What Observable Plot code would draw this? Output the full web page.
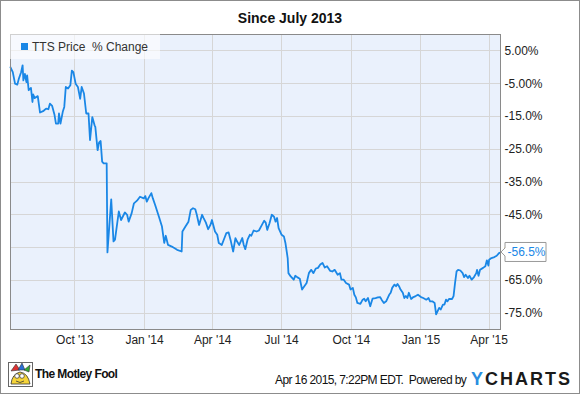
<!DOCTYPE html>
<html><head><meta charset="utf-8">
<script src="https://cdn.jsdelivr.net/npm/d3@7"></script>
<script src="https://cdn.jsdelivr.net/npm/@observablehq/plot@0.6"></script>
<style>
html,body{margin:0;padding:0;background:#fff;}
#wrap{position:relative;width:580px;height:394px;font-family:"Liberation Sans",Arial,sans-serif;overflow:hidden;background:#fff;}
.abs{position:absolute;white-space:nowrap;}
#border{position:absolute;left:0;top:0;width:580px;height:394px;box-sizing:border-box;border:1px solid #8c8c8c;pointer-events:none;}
</style></head>
<body>
<div id="wrap">
  <div id="title" class="abs" style="left:0;top:9px;width:580px;text-align:center;font-weight:bold;font-size:14px;line-height:18px;color:#111;"></div>
  <div id="chart" class="abs" style="left:0;top:28px;"></div>
  <div class="abs" style="left:10px;top:34px;width:150px;height:25px;background:rgba(255,255,255,0.6);"></div>
  <div id="legsw" class="abs" style="left:21px;top:43px;width:7px;height:7px;"></div>
  <div id="legtext" class="abs" style="left:32px;top:39px;font-size:12px;line-height:16px;color:#333;"></div>
  <svg class="abs" style="left:8px;top:362px;" width="25" height="25" viewBox="0 0 25 25">
    <rect x="0.5" y="0.5" width="24" height="24" fill="#fff" stroke="#666"/>
    <path d="M3 22 Q4 12 12 10 Q20 11 22 22 Z" fill="#f5d43a" stroke="#333" stroke-width="0.8"/>
    <path d="M3 9 L8 2 L12 8 Z" fill="#d33" stroke="#333" stroke-width="0.6"/>
    <path d="M10 8 L14 1 L17 8 Z" fill="#2a6fd6" stroke="#333" stroke-width="0.6"/>
    <path d="M16 8 L22 3 L21 10 Z" fill="#3a3" stroke="#333" stroke-width="0.6"/>
    <circle cx="9" cy="14" r="2.3" fill="#fff" stroke="#333" stroke-width="0.7"/>
    <circle cx="14" cy="14" r="2.3" fill="#fff" stroke="#333" stroke-width="0.7"/>
    <path d="M8 19 Q12 22 16 19" fill="none" stroke="#333" stroke-width="0.8"/>
  </svg>
  <div id="brand" class="abs" style="left:35px;top:367px;font-size:12px;font-weight:bold;letter-spacing:-0.6px;line-height:14px;color:#111;"></div>
  <div id="stamp" class="abs" style="left:275px;top:373px;font-size:12px;line-height:15px;color:#111;letter-spacing:-0.6px;"></div>
  <div class="abs" style="left:471px;top:369px;font-size:18px;font-weight:bold;letter-spacing:2px;line-height:20px;color:#1a1a1a;"><span style="color:#2a8ee0">Y</span><span id="ych"></span></div>
  <div id="border"></div>
</div>
<script>
(function(){
const titleText = "Since July 2013";
const seriesLabel = "TTS Price\u00a0 % Change";
const brandText = "The Motley Fool";
const stampText = "Apr 16 2015, 7:22PM EDT.\u00a0 Powered by";
const ychartsRest = "CHARTS";
const lineColor = "#1a87e6";

const dates = [
"2013-07-08","2013-07-11","2013-07-14","2013-07-17","2013-07-19","2013-07-22","2013-07-24","2013-07-25","2013-07-27","2013-07-29",
"2013-07-30","2013-08-01","2013-08-04","2013-08-06","2013-08-07","2013-08-09","2013-08-13","2013-08-16","2013-08-20","2013-08-24",
"2013-08-27","2013-08-29","2013-09-01","2013-09-04","2013-09-06","2013-09-09","2013-09-10","2013-09-12","2013-09-15","2013-09-17",
"2013-09-19","2013-09-22","2013-09-25","2013-09-27","2013-09-29","2013-10-02","2013-10-05","2013-10-08","2013-10-10","2013-10-13",
"2013-10-16","2013-10-19","2013-10-21","2013-10-24","2013-10-27","2013-10-28","2013-10-31","2013-11-02","2013-11-04","2013-11-06",
"2013-11-08","2013-11-12","2013-11-13","2013-11-18","2013-11-21","2013-11-23","2013-11-28","2013-12-01","2013-12-06","2013-12-09",
"2013-12-11","2013-12-15","2013-12-18","2013-12-22","2013-12-26","2013-12-31","2014-01-02","2014-01-04","2014-01-06","2014-01-10",
"2014-01-12","2014-01-15","2014-01-20","2014-01-24","2014-01-27","2014-01-29","2014-02-01","2014-02-06","2014-02-13","2014-02-19",
"2014-02-20","2014-02-24","2014-02-28","2014-03-03","2014-03-06","2014-03-09","2014-03-11","2014-03-14","2014-03-18","2014-03-20",
"2014-03-23","2014-03-26","2014-03-29","2014-03-31","2014-04-04","2014-04-07","2014-04-09","2014-04-13","2014-04-16","2014-04-19",
"2014-04-22","2014-04-25","2014-04-28","2014-05-01","2014-05-03","2014-05-06","2014-05-10","2014-05-12","2014-05-14","2014-05-17",
"2014-05-20","2014-05-22","2014-05-25","2014-05-29","2014-06-01","2014-06-05","2014-06-08","2014-06-10","2014-06-12","2014-06-15",
"2014-06-18","2014-06-21","2014-06-23","2014-06-25","2014-06-27","2014-07-01","2014-07-04","2014-07-06","2014-07-09","2014-07-10",
"2014-07-13","2014-07-17","2014-07-19","2014-07-22","2014-07-25","2014-07-28","2014-07-31","2014-08-03","2014-08-06","2014-08-09",
"2014-08-12","2014-08-15","2014-08-18","2014-08-21","2014-08-24","2014-08-27","2014-08-30","2014-09-03","2014-09-06","2014-09-09",
"2014-09-13","2014-09-16","2014-09-18","2014-09-21","2014-09-24","2014-09-28","2014-09-30","2014-10-03","2014-10-05","2014-10-07",
"2014-10-09","2014-10-13","2014-10-16","2014-10-18","2014-10-20","2014-10-23","2014-10-26","2014-10-29","2014-11-02","2014-11-05",
"2014-11-08","2014-11-10","2014-11-13","2014-11-16","2014-11-18","2014-11-20","2014-11-22","2014-11-24","2014-11-27","2014-11-29",
"2014-12-01","2014-12-03","2014-12-05","2014-12-08","2014-12-10","2014-12-12","2014-12-14","2014-12-16","2014-12-19","2014-12-22",
"2014-12-25","2014-12-28","2015-01-01","2015-01-04","2015-01-08","2015-01-11","2015-01-13","2015-01-16","2015-01-19","2015-01-21",
"2015-01-23","2015-01-25","2015-01-27","2015-01-30","2015-02-01","2015-02-03","2015-02-05","2015-02-07","2015-02-11","2015-02-13",
"2015-02-15","2015-02-17","2015-02-19","2015-02-22","2015-02-25","2015-02-27","2015-03-01","2015-03-04","2015-03-06","2015-03-09",
"2015-03-12","2015-03-15","2015-03-16","2015-03-18","2015-03-20","2015-03-24","2015-03-27","2015-03-29","2015-03-31","2015-04-01",
"2015-04-04","2015-04-08","2015-04-11","2015-04-14","2015-04-16"];

const pctChange = [
0, -1.5, -5.0, -5.3, -3.5, -1.5, 0.6, -4.0, -2.0, -4.5,
-2.5, -7.0, -6.3, -10.6, -8.3, -9.4, -8.8, -13.8, -13.4, -12.6,
-12.8, -11.1, -11.8, -14.4, -17.2, -17.2, -14.1, -17.2, -13.6, -12.1,
-6.0, -6.5, -5.5, -1.0, -1.5, -5.0, -6.0, -9.6, -6.0, -8.0,
-14.1, -14.1, -22.2, -15.2, -17.7, -18.2, -25.3, -22.9, -22.5, -28.8,
-29.3, -29.3, -56.5, -40.3, -53.1, -52.6, -44.0, -46.6, -44.3, -45.0,
-47.1, -44.5, -41.5, -40.7, -39.5, -40.0, -39.3, -41.0, -40.0, -38.4,
-40.0, -42.0, -45.6, -48.6, -53.6, -51.4, -54.2, -54.7, -55.7, -56.2,
-50.1, -48.6, -47.1, -43.5, -43.0, -43.3, -45.0, -48.1, -45.0, -46.0,
-47.4, -49.4, -48.1, -46.6, -50.1, -51.1, -53.6, -54.2, -52.4, -50.6,
-50.4, -53.1, -56.2, -52.1, -53.1, -54.2, -52.1, -54.2, -55.5, -52.6,
-51.1, -51.4, -49.8, -50.1, -49.8, -48.1, -46.8, -47.4, -49.6, -47.6,
-45.0, -45.6, -47.1, -46.0, -49.1, -51.1, -51.6, -53.6, -58.2, -62.8,
-63.8, -64.8, -63.6, -64.1, -64.5, -67.8, -66.8, -65.8, -62.8, -61.8,
-62.8, -61.4, -61.2, -60.2, -59.7, -61.1, -60.7, -62.1, -62.3, -61.8,
-63.3, -62.8, -64.8, -64.8, -65.8, -66.3, -67.8, -67.3, -69.4, -70.2,
-71.9, -72.2, -70.9, -70.6, -71.4, -70.4, -72.9, -70.6, -70.4, -70.2,
-70.1, -70.9, -71.9, -71.4, -70.4, -69.4, -68.8, -67.3, -66.3, -66.8,
-66.1, -66.8, -67.8, -68.8, -70.4, -69.8, -70.4, -68.8, -70.7, -70.1,
-69.8, -69.4, -70.1, -70.4, -70.9, -70.4, -71.4, -71.4, -71.9, -75.4,
-74.4, -73.4, -73.9, -72.4, -72.4, -70.9, -71.4, -70.7, -70.7, -69.8,
-65.8, -62.3, -61.8, -62.0, -62.8, -64.0, -63.3, -64.3, -63.6, -64.8,
-64.0, -62.8, -61.8, -63.6, -61.8, -61.2, -60.7, -58.9, -60.5, -58.7,
-58.2, -57.9, -57.5, -56.7, -56.5];

const xTickDates = ["2013-10-01","2014-01-01","2014-04-01","2014-07-01","2014-10-01","2015-01-01","2015-04-01"];
const xTickLabels = ["Oct '13","Jan '14","Apr '14","Jul '14","Oct '14","Jan '15","Apr '15"];
const yTicks = [5, -5, -15, -25, -35, -45, -55, -65, -75];
const yTickLabels = ["5.00%","-5.00%","-15.0%","-25.0%","-35.0%","-45.0%","-55.0%","-65.0%","-75.0%"];
const endLabel = "-56.5%";

const parse = s => new Date(s + "T00:00:00Z");
const data = dates.map((d, i) => ({date: parse(d), pct: pctChange[i]}));
const xTicks = xTickDates.map(parse);
const xLab = new Map(xTicks.map((d, i) => [d.getTime(), xTickLabels[i]]));
const yLab = new Map(yTicks.map((d, i) => [d, yTickLabels[i]]));

document.getElementById("title").textContent = titleText;
document.getElementById("legtext").textContent = seriesLabel;
document.getElementById("legsw").style.background = lineColor;
document.getElementById("brand").textContent = brandText;
document.getElementById("stamp").textContent = stampText;
document.getElementById("ych").textContent = ychartsRest;

const plot = Plot.plot({
  width: 580, height: 322,
  marginTop: 6, marginBottom: 21, marginLeft: 10, marginRight: 80,
  style: {fontFamily: "Liberation Sans, Arial, sans-serif", fontSize: "12px", color: "#222", background: "transparent", overflow: "visible"},
  x: {type: "utc", domain: [data[0].date, data[data.length - 1].date]},
  y: {domain: [-80, 10]},
  marks: [
    Plot.frame({fill: "#eaf1fc", stroke: null}),
    Plot.ruleY(yTicks, {stroke: "#d6d6d6", strokeWidth: 1, shapeRendering: "crispEdges"}),
    Plot.ruleX(xTicks, {stroke: "#d6d6d6", strokeWidth: 1, shapeRendering: "crispEdges"}),
    Plot.line(data, {x: "date", y: "pct", stroke: lineColor, strokeWidth: 1.8, curve: "linear"}),
    Plot.frame({stroke: "#8a8a8a", shapeRendering: "crispEdges"}),
    Plot.axisX(xTicks, {tickSize: 0, tickPadding: 6, tickFormat: d => xLab.get(+d), fill: "#222", fontSize: 12, label: null}),
    Plot.axisY(yTicks, {anchor: "right", tickSize: 0, tickPadding: 4, tickFormat: d => yLab.get(d), fill: "#222", fontSize: 12, label: null})
  ]
});
document.getElementById("chart").appendChild(plot);

// end-value callout drawn at the last point via the plot's scales
const xs = plot.scale("x"), ys = plot.scale("y");
const last = data[data.length - 1];
const px = xs.apply(last.date), py = ys.apply(last.pct);
const bx = px + 5, boxTop = py - 9.5, boxBot = py + 9.5, boxRight = px + 46;
const g = d3.select(plot).append("g");
g.append("path")
  .attr("d", `M${px + 1},${py} L${bx},${py - 4} L${bx},${boxTop} L${boxRight},${boxTop} L${boxRight},${boxBot} L${bx},${boxBot} L${bx},${py + 4} Z`)
  .attr("fill", "#ffffff").attr("stroke", "#9a9a9a").attr("stroke-width", 1);
g.append("text").attr("x", bx + 2.5).attr("y", py).attr("dy", "0.35em")
  .attr("text-anchor", "start")
  .attr("fill", lineColor).attr("font-size", 12).text(endLabel);
})();
</script>
</body></html>
